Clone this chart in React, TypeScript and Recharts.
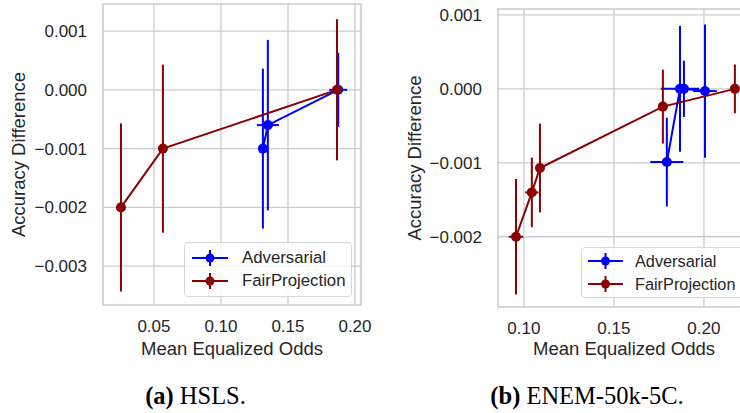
import React from 'react'
import {
  CartesianGrid,
  ErrorBar,
  Legend,
  ReferenceArea,
  Scatter,
  ScatterChart,
  XAxis,
  YAxis,
} from 'recharts'

// (a) HSLS
const hslsAdvX = [0.1313, 0.135, 0.1875]
const hslsAdvY = [-0.001, -0.0006, 0.0]
const hslsAdvXErr = [0.0015, 0.0082, 0.0067]
const hslsAdvYErr = [0.00136, 0.00145, 0.00063]

const hslsFairX = [0.0254, 0.0567, 0.1866]
const hslsFairY = [-0.002, -0.001, 0.0]
const hslsFairXErr = [0.001, 0.001, 0.001]
const hslsFairYErr = [0.00143, 0.00143, 0.0012]

const hslsXTicks = [0.05, 0.1, 0.15, 0.2]
const hslsYTicks = [-0.003, -0.002, -0.001, 0, 0.001]

// (b) ENEM-50k-5C
const enemAdvX = [0.1794, 0.1867, 0.1889, 0.2006]
const enemAdvY = [-0.00099, 0.0, 0.0, -0.00003]
const enemAdvXErr = [0.0092, 0.0106, 0.003, 0.0066]
const enemAdvYErr = [0.0006, 0.00085, 0.00038, 0.0009]

const enemFairX = [0.0956, 0.1044, 0.1089, 0.1772, 0.2172]
const enemFairY = [-0.002, -0.0014, -0.00107, -0.00024, 0.0]
const enemFairXErr = [0.004, 0.0037, 0.001, 0.001, 0.001]
const enemFairYErr = [0.00078, 0.00047, 0.0006, 0.0005, 0.00033]

const enemXTicks = [0.1, 0.15, 0.2]
const enemYTicks = [-0.002, -0.001, 0, 0.001]

const FONT = '"Liberation Sans", Arial, sans-serif'
const SERIF = '"Liberation Serif", "Times New Roman", serif'
const INK = '#262626'
const GRID = '#cccccc'
const BLUE = '#0000ff'
const DARKRED = '#8b0000'

const rows = (x: number[], y: number[], ex: number[], ey: number[]) =>
  x.map((v, i) => ({ x: v, y: y[i], ex: ex[i], ey: ey[i] }))

const fmtY = (v: number) =>
  (Math.abs(v) < 1e-9 ? '0.000' : v.toFixed(3)).replace('-', '\u2212')
const fmtX = (v: number) => v.toFixed(2)

const dot = (color: string) => (p: any) => (
  <circle cx={p.cx} cy={p.cy} r={5} fill={color} />
)

// legend box drawn like matplotlib's: line + marker + vertical errorbar tick
function LegendBox({ payload, geo }: any) {
  return (
    <div
      style={{
        width: geo.w,
        height: geo.h,
        boxSizing: 'border-box',
        border: '1px solid #d6d6d6',
        borderRadius: 4,
        background: 'rgba(255,255,255,0.85)',
        fontFamily: FONT,
        fontSize: geo.fs,
        color: INK,
        position: 'relative',
      }}
    >
      {(payload || []).map((e: any, i: number) => (
        <div
          key={e.value}
          style={{
            position: 'absolute',
            left: geo.iconX,
            top: geo.row0 + i * geo.rowGap - 9,
            height: 18,
            display: 'flex',
            alignItems: 'center',
            whiteSpace: 'nowrap',
          }}
        >
          <svg width={geo.iconW} height={18} style={{ display: 'block' }}>
            <line x1={0} x2={geo.iconW} y1={9} y2={9} stroke={e.color} strokeWidth={2} />
            <line x1={geo.iconW / 2} x2={geo.iconW / 2} y1={1} y2={17} stroke={e.color} strokeWidth={2} />
            <circle cx={geo.iconW / 2} cy={9} r={4.5} fill={e.color} />
          </svg>
          <span style={{ marginLeft: geo.gap, lineHeight: '18px' }}>{e.value}</span>
        </div>
      ))}
    </div>
  )
}

function Panel(props: any) {
  const {
    width, height, margin, yAxisWidth, xAxisHeight, xDomain, yDomain,
    xTicks, yTicks, adv, fair, yLabelDx, xLabelDy, legend,
  } = props
  return (
    <ScatterChart width={width} height={height} margin={margin}>
      <CartesianGrid stroke={GRID} strokeWidth={1.3} horizontalValues={yTicks} verticalValues={xTicks} />
      <ReferenceArea
        x1={xDomain[0]} x2={xDomain[1]} y1={yDomain[0]} y2={yDomain[1]}
        fill="none" stroke={GRID} strokeWidth={1.6} ifOverflow="visible"
      />
      <XAxis
        type="number"
        dataKey="x"
        domain={xDomain}
        ticks={xTicks}
        allowDataOverflow
        tickFormatter={fmtX}
        axisLine={false}
        tickLine={false}
        tickSize={0}
        tickMargin={15}
        height={xAxisHeight}
        tick={{ fill: INK, fontSize: 17, fontFamily: FONT }}
        label={{
          value: 'Mean Equalized Odds',
          position: 'center',
          dy: xLabelDy,
          style: { fill: INK, fontSize: 18.5, fontFamily: FONT },
        }}
      />
      <YAxis
        type="number"
        dataKey="y"
        domain={yDomain}
        ticks={yTicks}
        allowDataOverflow
        tickFormatter={fmtY}
        axisLine={false}
        tickLine={false}
        tickSize={0}
        tickMargin={16}
        width={yAxisWidth}
        tick={{ fill: INK, fontSize: 17, fontFamily: FONT }}
        label={{
          value: 'Accuracy Difference',
          angle: -90,
          position: 'center',
          dx: yLabelDx,
          style: { fill: INK, fontSize: 18.5, fontFamily: FONT, textAnchor: 'middle' },
        }}
      />
      <Scatter
        name="Adversarial"
        data={adv}
        fill={BLUE}
        line={{ stroke: BLUE, strokeWidth: 2 }}
        lineType="joint"
        shape={dot(BLUE)}
        isAnimationActive={false}
      >
        <ErrorBar dataKey="ex" direction="x" width={0} stroke={BLUE} strokeWidth={2} isAnimationActive={false} />
        <ErrorBar dataKey="ey" direction="y" width={0} stroke={BLUE} strokeWidth={2} isAnimationActive={false} />
      </Scatter>
      <Scatter
        name="FairProjection"
        data={fair}
        fill={DARKRED}
        line={{ stroke: DARKRED, strokeWidth: 2 }}
        lineType="joint"
        shape={dot(DARKRED)}
        isAnimationActive={false}
      >
        <ErrorBar dataKey="ex" direction="x" width={0} stroke={DARKRED} strokeWidth={2} isAnimationActive={false} />
        <ErrorBar dataKey="ey" direction="y" width={0} stroke={DARKRED} strokeWidth={2} isAnimationActive={false} />
      </Scatter>
      <Legend
        layout="vertical"
        align="center"
        verticalAlign="middle"
        wrapperStyle={{ left: legend.left, top: legend.top, width: legend.w, height: legend.h }}
        content={(p: any) => <LegendBox payload={p.payload} geo={legend} />}
      />
    </ScatterChart>
  )
}

const captionStyle: React.CSSProperties = {
  position: 'absolute',
  top: 384,
  textAlign: 'center',
  fontFamily: SERIF,
  fontSize: 24.5,
  lineHeight: '24px',
  color: '#000',
  whiteSpace: 'nowrap',
}

export default function App() {
  return (
    <div
      style={{
        position: 'absolute',
        left: 0,
        top: 0,
        width: 740,
        height: 413,
        overflow: 'hidden',
        background: '#fff',
      }}
    >
      <div style={{ position: 'absolute', left: 0, top: 0 }}>
        <Panel
          width={382}
          height={365}
          margin={{ top: 4, right: 21, left: 0, bottom: 0 }}
          yAxisWidth={103}
          xAxisHeight={60}
          xDomain={[0.012, 0.2045]}
          yDomain={[-0.00366, 0.00146]}
          xTicks={hslsXTicks}
          yTicks={hslsYTicks}
          adv={rows(hslsAdvX, hslsAdvY, hslsAdvXErr, hslsAdvYErr)}
          fair={rows(hslsFairX, hslsFairY, hslsFairXErr, hslsFairYErr)}
          yLabelDx={-33}
          xLabelDy={13}
          legend={{ left: 184, top: 242, w: 168, h: 55, iconX: 7, iconW: 36, gap: 14, row0: 15, rowGap: 23, fs: 16.8 }}
        />
      </div>
      <div style={{ position: 'absolute', left: 370, top: 0 }}>
        <Panel
          width={380}
          height={365}
          margin={{ top: 9, right: 0, left: 0, bottom: 0 }}
          yAxisWidth={128}
          xAxisHeight={58}
          xDomain={[0.0856, 0.2256]}
          yDomain={[-0.00295, 0.00108]}
          xTicks={enemXTicks}
          yTicks={enemYTicks}
          adv={rows(enemAdvX, enemAdvY, enemAdvXErr, enemAdvYErr)}
          fair={rows(enemFairX, enemFairY, enemFairXErr, enemFairYErr)}
          yLabelDx={-20}
          xLabelDy={12}
          legend={{ left: 211, top: 247, w: 164, h: 51, iconX: 6, iconW: 35, gap: 12, row0: 13, rowGap: 23, fs: 16.3 }}
        />
      </div>
      <div style={{ ...captionStyle, left: 0, width: 391 }}>
        <b>(a)</b> HSLS.
      </div>
      <div style={{ ...captionStyle, left: 387, width: 400 }}>
        <b>(b)</b> ENEM-50k-5C.
      </div>
    </div>
  )
}
